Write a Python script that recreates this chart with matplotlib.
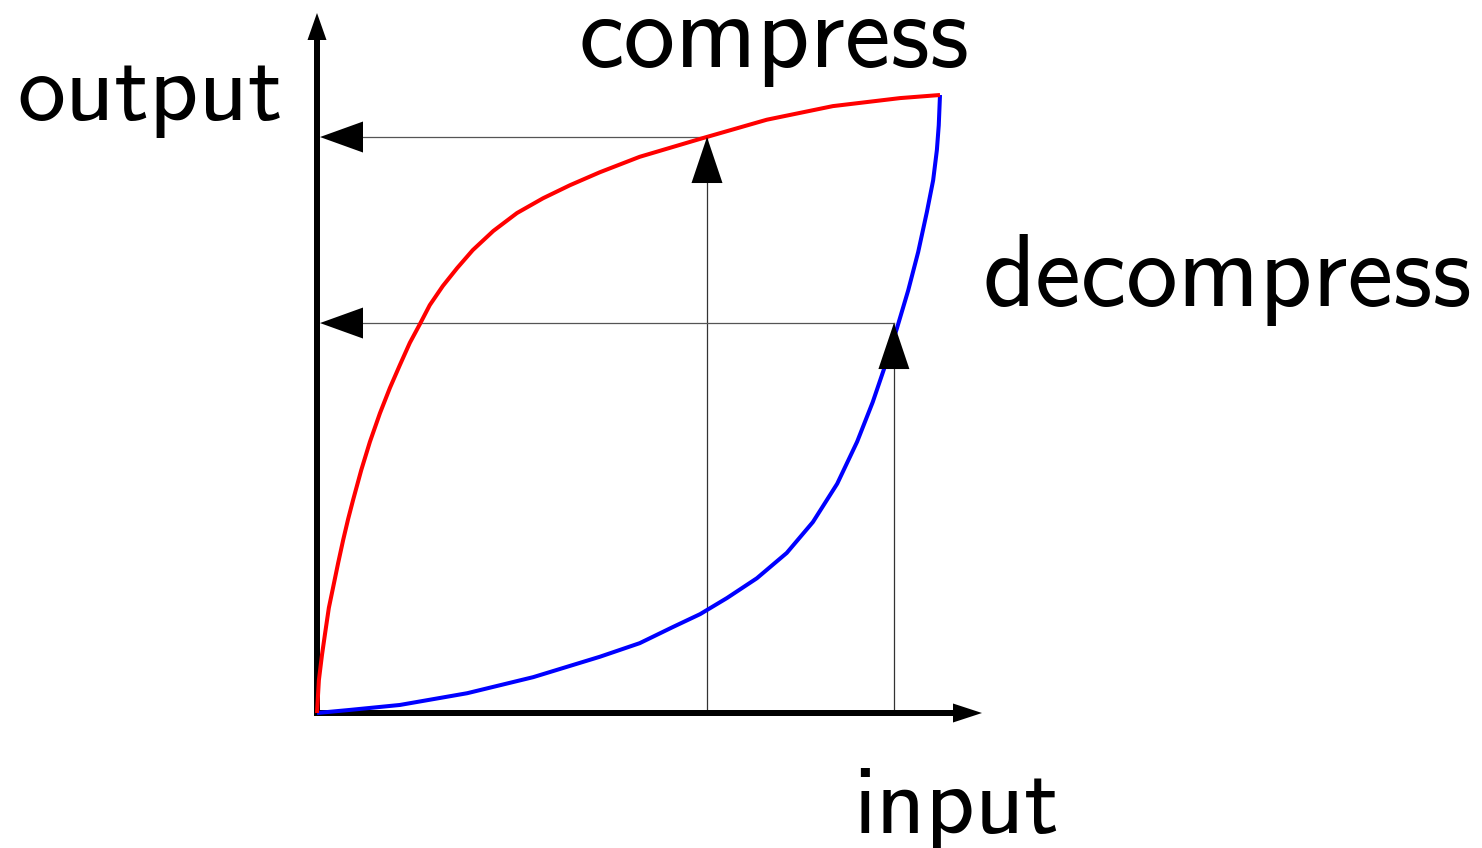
import matplotlib
matplotlib.use("Agg")
import matplotlib.pyplot as plt

# --- data (normalized input/output) ---
compress_x = [0.0, 0.003, 0.008, 0.013, 0.019, 0.026, 0.034, 0.042, 0.050, 0.058,
              0.071, 0.085, 0.101, 0.117, 0.133, 0.149, 0.165, 0.181, 0.202, 0.225,
              0.250, 0.283, 0.321, 0.363, 0.406, 0.454, 0.518, 0.615, 0.722, 0.828,
              0.936, 1.0]
compress_y = [0.0, 0.053, 0.094, 0.129, 0.170, 0.204, 0.243, 0.280, 0.314, 0.345,
              0.393, 0.439, 0.485, 0.526, 0.563, 0.599, 0.629, 0.660, 0.691, 0.720,
              0.749, 0.780, 0.809, 0.833, 0.854, 0.875, 0.900, 0.929, 0.960, 0.982,
              0.995, 1.0]

decompress_x = [0.0, 0.053, 0.133, 0.241, 0.347, 0.454, 0.518, 0.571, 0.615, 0.658,
                0.706, 0.754, 0.796, 0.835, 0.867, 0.892, 0.915, 0.931, 0.949, 0.965,
                0.979, 0.989, 0.995, 0.998, 1.0]
decompress_y = [0.0, 0.005, 0.013, 0.032, 0.058, 0.091, 0.113, 0.139, 0.160, 0.186,
                0.218, 0.259, 0.309, 0.371, 0.439, 0.503, 0.571, 0.623, 0.684, 0.746,
                0.811, 0.862, 0.911, 0.951, 1.0]

probe_inputs = [0.626, 0.926]     # where the vertical guides rise
probe_outputs = [0.932, 0.631]    # where they meet the curves
labels = ["output", "input", "compress", "decompress"]

# --- layout: map reference pixels to data units ---
W, H, DPI = 1482, 848, 100
X0, Y0 = 317.0, 713.0     # origin in pixels
SX, SY = 623.0, 618.0     # pixels per data unit


def px(x, y):
    return (x - X0) / SX, (Y0 - y) / SY


fig = plt.figure(figsize=(W / DPI, H / DPI), dpi=DPI)
ax = fig.add_axes([0, 0, 1, 1])
ax.set_xlim(px(0, 0)[0], px(W, 0)[0])
ax.set_ylim(px(0, H)[1], px(0, 0)[1])
ax.axis("off")

FONT = "cmss10"

# axes with arrowheads
ax.arrow(0, 0, 0, px(0, 13)[1], width=6 / SX, head_width=19 / SX,
         head_length=27 / SY, length_includes_head=True, color="k", lw=0, zorder=2)
ax.arrow(-3 / SX, 0, px(982, 0)[0] + 3 / SX, 0, width=6 / SY, head_width=19 / SY,
         head_length=29 / SX, length_includes_head=True, color="k", lw=0, zorder=2)

# curves
ax.plot(decompress_x, decompress_y, color="#0000ff", lw=2.9, zorder=3,
        solid_capstyle="butt", solid_joinstyle="round")
ax.plot(compress_x, compress_y, color="#ff0000", lw=2.9, zorder=4,
        solid_capstyle="butt", solid_joinstyle="round")

# guide lines with arrowheads
tip_left = px(320, 0)[0]
for xi, yo in zip(probe_inputs, probe_outputs):
    ax.plot([xi, xi], [0, yo], color="#333333", lw=0.9, zorder=1)
    ax.plot([xi, tip_left + 0.02], [yo, yo], color="#555555", lw=0.9, zorder=1)
    ax.fill([xi, xi - 15.5 / SX, xi + 15.5 / SX], [yo, yo - 46 / SY, yo - 46 / SY],
            color="k", lw=0, zorder=6)
    ax.fill([tip_left, tip_left + 43 / SX, tip_left + 43 / SX],
            [yo, yo + 15.5 / SY, yo - 15.5 / SY], color="k", lw=0, zorder=6)

# labels
ax.text(*px(17, 120), labels[0], fontsize=69, family=FONT, ha="left", va="baseline")
ax.text(*px(853, 833), labels[1], fontsize=69, family=FONT, ha="left", va="baseline")
ax.text(*px(578, 67), labels[2], fontsize=74, family=FONT, ha="left", va="baseline")
ax.text(*px(982, 306), labels[3], fontsize=74, family=FONT, ha="left", va="baseline")

fig.savefig("out.png", dpi=DPI, facecolor="white")
